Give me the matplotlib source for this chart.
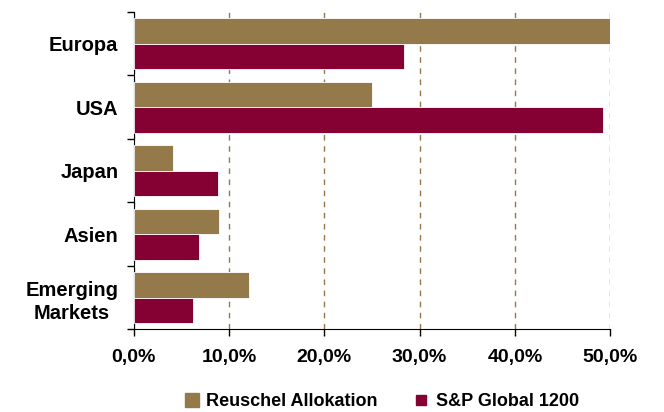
import numpy as np
import matplotlib.pyplot as plt
from matplotlib.lines import Line2D
from matplotlib.ticker import FuncFormatter

plt.rcParams['font.family'] = ['Liberation Sans', 'DejaVu Sans']

regions = ['Europa', 'USA', 'Japan', 'Asien', 'Emerging\nMarkets']
reuschel = [50.0, 25.0, 4.1, 8.95, 12.05]
sp_global = [28.4, 49.2, 8.9, 6.85, 6.2]
series_names = ['Reuschel Allokation', 'S&P Global 1200']

gold = '#947A4A'
red = '#850033'

fig = plt.figure(figsize=(6.64, 4.12), dpi=100)
ax = fig.add_axes([0.2013, 0.2007, 0.9190 - 0.2013, 0.9709 - 0.2007])

y = np.arange(len(regions))
h = 0.4
ax.barh(y - h / 2, reuschel, height=h, color=gold, edgecolor='white', linewidth=0.6, zorder=3)
ax.barh(y + h / 2, sp_global, height=h, color=red, edgecolor='white', linewidth=0.6, zorder=3)

ax.set_xlim(0, 50)
ax.set_ylim(len(regions) - 0.5, -0.5)
ax.set_xticks([0, 10, 20, 30, 40, 50])
ax.xaxis.set_major_formatter(FuncFormatter(lambda v, p: f'{v:.1f}%'.replace('.', ',')))
ax.set_yticks(y)
ax.set_yticklabels(regions, fontsize=14.5, fontweight='bold', multialignment='center',
                   linespacing=1.3)
ax.set_yticks(np.arange(len(regions) + 1) - 0.5, minor=True)
ax.tick_params(axis='y', which='major', length=0, pad=11)
ax.tick_params(axis='y', which='minor', length=5, width=1, direction='out')
ax.tick_params(axis='x', length=5, width=1, direction='out', labelsize=14, pad=9)
for lab in ax.get_xticklabels():
    lab.set_fontweight('bold')

ax.grid(axis='x', color=gold, linestyle=(0, (4, 4)), linewidth=1, zorder=0)
ax.spines['top'].set_visible(False)
ax.spines['right'].set_visible(False)

handles = [Line2D([], [], marker='s', linestyle='', markersize=10, color=gold),
           Line2D([], [], marker='s', linestyle='', markersize=7, color=red)]
leg = fig.legend(handles, series_names, loc='lower center', bbox_to_anchor=(0.575, -0.035),
                 ncol=2, frameon=False, prop={'weight': 'bold', 'size': 13},
                 handlelength=0.8, handletextpad=0.4, columnspacing=2.0)

fig.savefig('out.png', dpi=100)
